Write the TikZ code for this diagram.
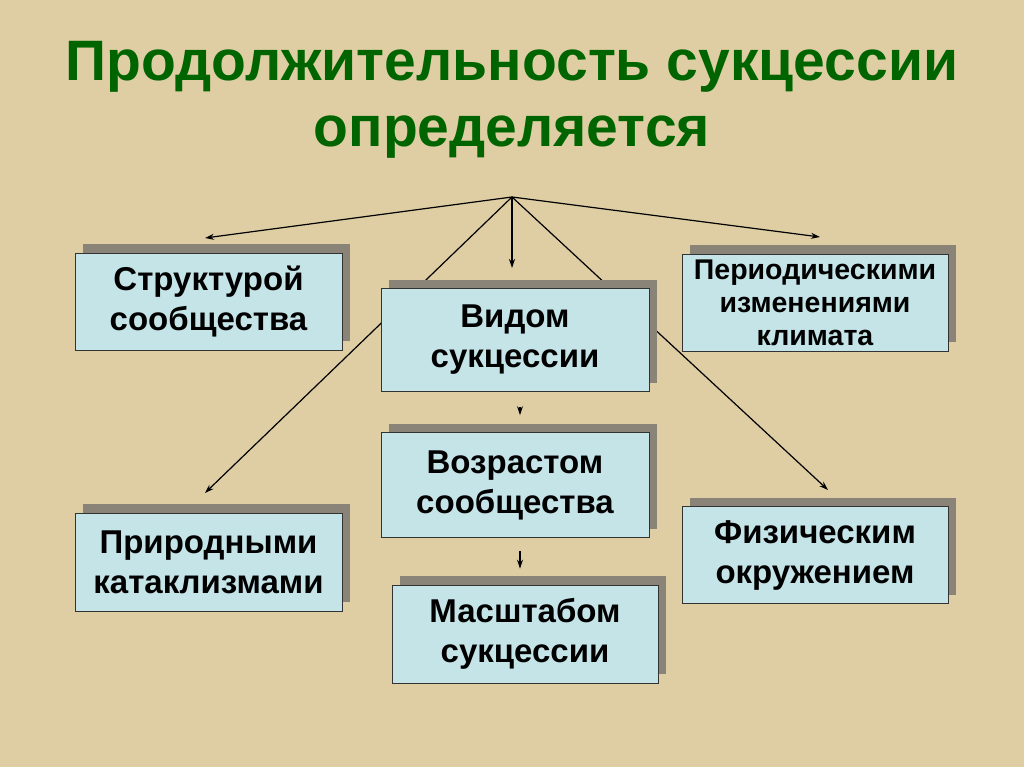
\documentclass[tikz,border=0pt]{standalone}
\usepackage{fontspec}
\setmainfont{Liberation Sans}
\usepackage{tikz}
\usetikzlibrary{shadows}
\usetikzlibrary{arrows.meta}

\definecolor{parchment}{RGB}{223,206,164}
\definecolor{boxblue}{RGB}{197,228,232}
\definecolor{boxshadow}{RGB}{138,132,120}
\definecolor{titlegreen}{RGB}{0,100,0}

\begin{document}
\begin{tikzpicture}[x=1pt,y=-1pt,line width=1.2pt,
		>={Stealth[length=9pt,width=6pt]}]
			
			\tikzstyle{factor}=[draw=black!80,line width=0.8pt,fill=boxblue,
				align=center,inner sep=0pt,font=\bfseries\fontsize{33}{40}\selectfont,
				drop shadow={shadow xshift=8pt,shadow yshift=9pt,opacity=1,fill=boxshadow}]
			
			\fill[parchment] (0,0) rectangle (1024,767);
			\useasboundingbox (0,0) rectangle (1024,767);
			
			% title
			\node[titlegreen,align=center,font=\bfseries\fontsize{57}{66}\selectfont] (title) at (512,100)
				{Продолжительность сукцессии\\определяется};
			
			% fan of arrows
			\coordinate (apex) at (512,197);
			\coordinate (toleft) at (205,238);
			\coordinate (toright) at (820,237);
			\coordinate (todown) at (512,268);
			\coordinate (tolowleft) at (205,493);
			\coordinate (tolowright) at (828,490);
			\draw[->] (apex) -- (toleft);
			\draw[->] (apex) -- (toright);
			\draw[->] (apex) -- (todown);
			\draw[->] (apex) -- (tolowleft);
			\draw[->] (apex) -- (tolowright);
			
			% boxes
			\node[factor,minimum width=267pt,minimum height=97pt] (struct) at (208.5,301.5)
				{Структурой\\сообщества};
			\node[factor,minimum width=268pt,minimum height=103pt] (vid) at (515,340)
				{Видом\\сукцессии};
			\node[factor,minimum width=266pt,minimum height=97pt,
				font=\bfseries\fontsize{28.5}{33}\selectfont] (period) at (815,302.5)
				{Периодическими\\изменениями\\климата};
			\node[factor,minimum width=268pt,minimum height=105pt] (vozrast) at (515,485)
				{Возрастом\\сообщества};
			\node[factor,minimum width=266pt,minimum height=98pt] (masshtab) at (525,634)
				{Масштабом\\сукцессии};
			\node[factor,minimum width=267pt,minimum height=98pt] (prirod) at (208.5,562)
				{Природными\\катаклизмами};
			\node[factor,minimum width=266pt,minimum height=97pt] (fizich) at (815,555)
				{Физическим\\окружением};
			
			\draw[->,shorten <=15pt,shorten >=17pt] ([xshift=5pt]vid.south) -- ([xshift=5pt]vozrast.north);
			\draw[->,shorten <=13pt,shorten >=16pt] ([xshift=5pt]vozrast.south) -- ([xshift=-5pt]masshtab.north);
\end{tikzpicture}
\end{document}
